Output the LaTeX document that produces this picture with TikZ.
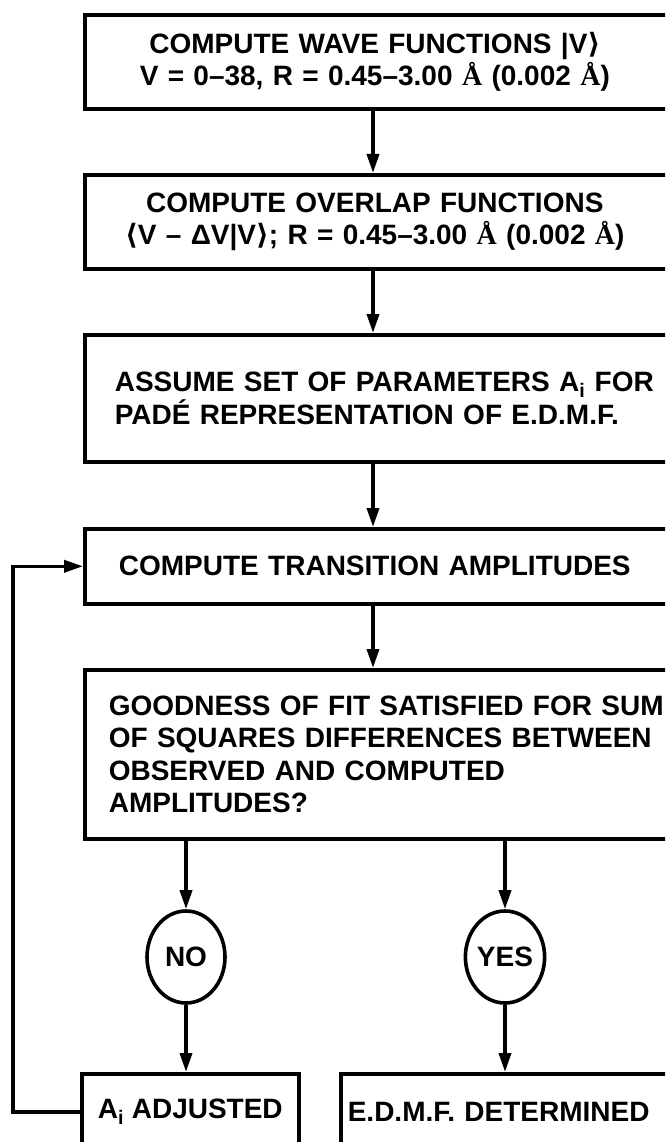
\documentclass[tikz,border=0pt]{standalone}
\usepackage{fontspec}
\setmainfont{Liberation Sans}
\newfontfamily\brkfont{DejaVu Sans}
\newfontfamily\serifrm{Liberation Serif}
\usetikzlibrary{positioning,arrows.meta,shapes.geometric}
\tikzset{
  stepbox/.style={draw,line width=3.6pt,anchor=north west,inner ysep=0pt,
    font=\fontsize{28}{32.5}\selectfont\bfseries},
  widebox/.style={stepbox,minimum width=617pt,text width=569pt,inner xsep=24pt,align=left},
  answer/.style={draw,ellipse,line width=3.6pt,minimum width=78pt,minimum height=92pt,
    inner sep=0pt,font=\fontsize{28}{32.5}\selectfont\bfseries},
  flow/.style={line width=3.6pt,-{Triangle[length=19pt,width=12pt]}},
}
\newcommand{\angs}{{\serifrm Å}}
\newcommand{\lbrk}{{\brkfont ⟨}}
\newcommand{\rbrk}{{\brkfont ⟩}}
\newcommand{\ctr}[1]{\parbox{532pt}{\centering #1}}

\begin{document}
\begin{tikzpicture}[x=1pt,y=-1pt]
        \useasboundingbox (0,0) rectangle (665,1142);
        \clip (0,0) rectangle (665,1142);
        \coordinate (spine) at (373,0);
        \coordinate (back) at (13,0);
        % main column
        \node[widebox,minimum height=94pt] (wave) at (83,13)
          {\ctr{COMPUTE WAVE FUNCTIONS |V\rbrk\\ V = 0–38, R = 0.45–3.00 \angs{} (0.002 \angs)}};
        \node[widebox,minimum height=94pt] (overlap) at (83,173)
          {\ctr{COMPUTE OVERLAP FUNCTIONS\\ \lbrk V – ΔV|V\rbrk; R = 0.45–3.00 \angs{} (0.002 \angs)}};
        \node[widebox,inner xsep=30pt,text width=557pt,minimum height=127pt] (assume) at (83,333)
          {ASSUME SET OF PARAMETERS A\textsubscript{i} FOR\\ PADÉ REPRESENTATION OF E.D.M.F.};
        \node[widebox,minimum height=75pt] (trans) at (83,527)
          {\ctr{COMPUTE TRANSITION AMPLITUDES}};
        \node[widebox,minimum height=169pt] (fit) at (83,668)
          {GOODNESS OF FIT SATISFIED FOR SUM\\ OF SQUARES DIFFERENCES BETWEEN\\
           OBSERVED AND COMPUTED\\ AMPLITUDES?};
        % branches
        \node[answer] (no) at (186,957) {NO};
        \node[answer] (yes) at (505,957) {YES};
        \node[stepbox,minimum width=217pt,minimum height=76pt] (adj) at (80,1072)
          {A\textsubscript{i} ADJUSTED};
        \node[stepbox,text width=386pt,inner xsep=7pt,align=left,minimum height=76pt] (done) at (339,1072)
          {E.D.M.F. DETERMINED};
        % connectors
        \draw[flow] (wave.south -| spine) -- (overlap.north -| spine);
        \draw[flow] (overlap.south -| spine) -- (assume.north -| spine);
        \draw[flow] (assume.south -| spine) -- (trans.north -| spine);
        \draw[flow] (trans.south -| spine) -- (fit.north -| spine);
        \draw[flow] (fit.south -| no) -- (no);
        \draw[flow] (fit.south -| yes) -- (yes);
        \draw[flow] (no) -- (adj.north -| no);
        \draw[flow] (yes) -- (done.north -| yes);
        \draw[flow] (adj.west) -- (adj.west -| back) -- (trans.west -| back) -- (trans.west);
\end{tikzpicture}
\end{document}
